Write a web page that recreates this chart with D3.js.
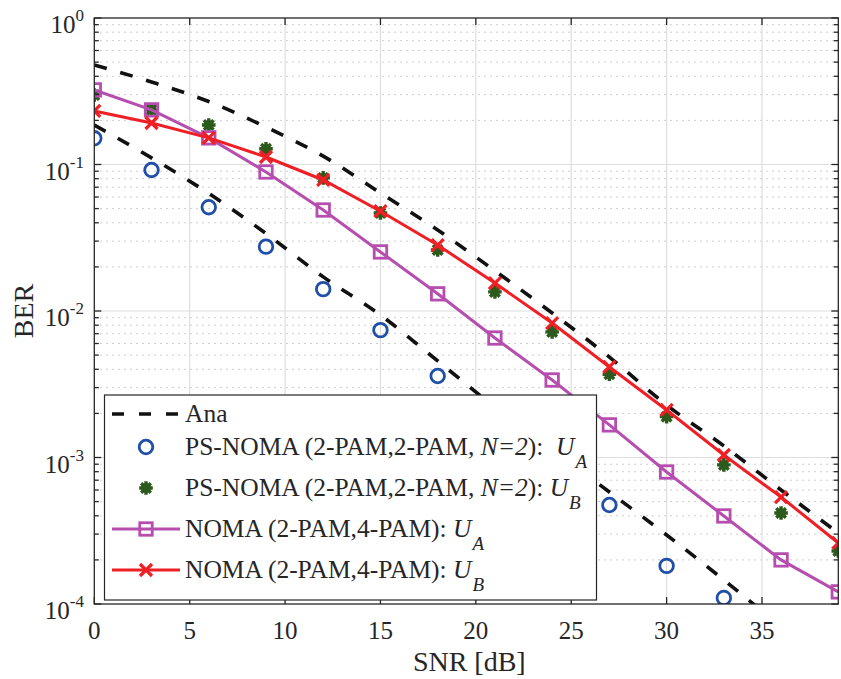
<!DOCTYPE html>
<html>
<head>
<meta charset="utf-8">
<script src="https://cdn.jsdelivr.net/npm/d3@7"></script>
<style>
  html, body { margin: 0; padding: 0; background: #fff; }
  svg { display: block; font-family: "Liberation Serif", "Times New Roman", serif; }
  text { white-space: pre; }
</style>
</head>
<body>
<svg id="chart" width="841" height="679"></svg>
<script>
// SNR sample points (dB)
const snr = [0, 3, 6, 9, 12, 15, 18, 21, 24, 27, 30, 33, 36, 39];

// Analytical BER curves
const anaUpper = [0.478, 0.366, 0.269, 0.180, 0.114, 0.0639, 0.0357, 0.0188, 0.00969, 0.00485, 0.00228, 0.00120, 0.000600, 0.000305];
const anaLower = [0.186, 0.111, 0.0635, 0.0338, 0.0171, 0.00939, 0.00456, 0.00221, 0.00114, 0.000581, 0.000296, 0.000146, 0.0000697];

// Simulated BER
const psNomaA = [0.151, 0.0918, 0.0511, 0.0275, 0.0141, 0.0074, 0.0036, 0.0018, 0.00093, 0.000474, 0.000182, 0.00011];
const psNomaB = [0.298, 0.236, 0.186, 0.128, 0.081, 0.0467, 0.0261, 0.0135, 0.0072, 0.0037, 0.0019, 0.00089, 0.000418, 0.00023];
const nomaA = [0.323, 0.236, 0.152, 0.0889, 0.0489, 0.0253, 0.0131, 0.00654, 0.00338, 0.00167, 0.000796, 0.000399, 0.000200, 0.000121];
const nomaB = [0.232, 0.192, 0.152, 0.1125, 0.0784, 0.048, 0.0282, 0.0155, 0.00828, 0.00415, 0.00211, 0.00104, 0.000537, 0.000261];

// Axis ticks
const xTicks = [0, 5, 10, 15, 20, 25, 30, 35];
const yExponents = [0, -1, -2, -3, -4];

const svg = d3.select("#chart");
const pLeft = 94.3, pRight = 838.3, pTop = 18, pBottom = 604;
const axisColor = "#262626";

const x = d3.scaleLinear().domain([0, 39]).range([pLeft, pRight]);
const y = d3.scaleLog().domain([1e-4, 1]).range([pBottom, pTop]);

const colors = {
  ana: "#111111",
  psA: "#1f4fa8",
  psB: "#2c5a1d",
  nomaA: "#b64eaf",
  nomaB: "#ef1f26"
};

// Minor y values (2..9 x 10^k)
const minorY = [];
for (let k = -4; k < 0; k++) {
  for (let m = 2; m <= 9; m++) minorY.push(m * Math.pow(10, k));
}

// Grid
const grid = svg.append("g");
grid.selectAll(".minor").data(minorY).join("line")
  .attr("x1", pLeft).attr("x2", pRight)
  .attr("y1", d => y(d)).attr("y2", d => y(d))
  .attr("stroke", "#bdbdbd").attr("stroke-width", 1)
  .attr("stroke-dasharray", "1.5 4.5");
grid.selectAll(".vmajor").data(xTicks.slice(1)).join("line")
  .attr("x1", d => x(d)).attr("x2", d => x(d))
  .attr("y1", pTop).attr("y2", pBottom)
  .attr("stroke", "#dedede").attr("stroke-width", 1.2);
grid.selectAll(".hmajor").data(yExponents.slice(1, -1)).join("line")
  .attr("x1", pLeft).attr("x2", pRight)
  .attr("y1", d => y(Math.pow(10, d))).attr("y2", d => y(Math.pow(10, d)))
  .attr("stroke", "#dedede").attr("stroke-width", 1.2);

// Clip to the axes box
svg.append("clipPath").attr("id", "plotClip")
  .append("rect").attr("x", pLeft).attr("y", pTop)
  .attr("width", pRight - pLeft).attr("height", pBottom - pTop);
const plot = svg.append("g").attr("clip-path", "url(#plotClip)");

const pairs = vals => vals.map((v, i) => [snr[i], v]);

const smoothLine = d3.line().x(d => x(d[0])).y(d => y(d[1])).curve(d3.curveMonotoneX);
const straightLine = d3.line().x(d => x(d[0])).y(d => y(d[1]));

// Analytical dashed curves
[anaUpper, anaLower].forEach(vals => {
  plot.append("path").datum(pairs(vals))
    .attr("d", smoothLine)
    .attr("fill", "none").attr("stroke", colors.ana)
    .attr("stroke-width", 3.6).attr("stroke-dasharray", "13 14");
});

// Marker drawing helpers
function circleMarker(g, cx, cy, color) {
  g.append("circle").attr("cx", cx).attr("cy", cy).attr("r", 6.8)
    .attr("fill", "none").attr("stroke", color).attr("stroke-width", 2.8);
}
function asteriskMarker(g, cx, cy, color) {
  const r = 6.8;
  let d = "";
  for (let a = 0; a < 4; a++) {
    const t = a * Math.PI / 4;
    d += `M${cx - r * Math.cos(t)},${cy - r * Math.sin(t)}L${cx + r * Math.cos(t)},${cy + r * Math.sin(t)}`;
  }
  g.append("circle").attr("cx", cx).attr("cy", cy).attr("r", 4.8).attr("fill", color);
  g.append("path").attr("d", d).attr("stroke", color).attr("stroke-width", 3.4).attr("fill", "none");
}
function squareMarker(g, cx, cy, color) {
  const s = 12.5;
  g.append("rect").attr("x", cx - s / 2).attr("y", cy - s / 2).attr("width", s).attr("height", s)
    .attr("fill", "none").attr("stroke", color).attr("stroke-width", 2.8);
}
function crossMarker(g, cx, cy, color) {
  const r = 6;
  g.append("path")
    .attr("d", `M${cx - r},${cy - r}L${cx + r},${cy + r}M${cx - r},${cy + r}L${cx + r},${cy - r}`)
    .attr("stroke", color).attr("stroke-width", 3.2).attr("fill", "none");
}

// PS-NOMA markers
pairs(psNomaA).forEach(d => circleMarker(plot, x(d[0]), y(d[1]), colors.psA));
pairs(psNomaB).forEach(d => asteriskMarker(plot, x(d[0]), y(d[1]), colors.psB));

// NOMA lines with markers
plot.append("path").datum(pairs(nomaA)).attr("d", straightLine)
  .attr("fill", "none").attr("stroke", colors.nomaA).attr("stroke-width", 3);
pairs(nomaA).forEach(d => squareMarker(plot, x(d[0]), y(d[1]), colors.nomaA));
plot.append("path").datum(pairs(nomaB)).attr("d", straightLine)
  .attr("fill", "none").attr("stroke", colors.nomaB).attr("stroke-width", 3);
pairs(nomaB).forEach(d => crossMarker(plot, x(d[0]), y(d[1]), colors.nomaB));

// Axes box and ticks
const axes = svg.append("g").attr("stroke", axisColor).attr("stroke-width", 1.3);
axes.append("rect").attr("x", pLeft).attr("y", pTop)
  .attr("width", pRight - pLeft).attr("height", pBottom - pTop).attr("fill", "none");
xTicks.forEach(t => {
  axes.append("line").attr("x1", x(t)).attr("x2", x(t)).attr("y1", pBottom).attr("y2", pBottom - 7);
  axes.append("line").attr("x1", x(t)).attr("x2", x(t)).attr("y1", pTop).attr("y2", pTop + 7);
});
yExponents.forEach(e => {
  const yy = y(Math.pow(10, e));
  axes.append("line").attr("x1", pLeft).attr("x2", pLeft + 7).attr("y1", yy).attr("y2", yy);
  axes.append("line").attr("x1", pRight).attr("x2", pRight - 7).attr("y1", yy).attr("y2", yy);
});
minorY.forEach(v => {
  const yy = y(v);
  axes.append("line").attr("x1", pLeft).attr("x2", pLeft + 4.5).attr("y1", yy).attr("y2", yy);
  axes.append("line").attr("x1", pRight).attr("x2", pRight - 4.5).attr("y1", yy).attr("y2", yy);
});

// Tick labels
svg.append("g").selectAll("text").data(xTicks).join("text")
  .attr("x", d => x(d)).attr("y", 639)
  .attr("text-anchor", "middle").attr("font-size", 25).attr("fill", axisColor)
  .text(d => d);

const yl = svg.append("g").attr("fill", axisColor);
yExponents.forEach(e => {
  const yy = y(Math.pow(10, e));
  const t = yl.append("text").attr("x", 84).attr("y", yy + 15)
    .attr("text-anchor", "end").attr("font-size", 25);
  t.append("tspan").text("10");
  t.append("tspan").attr("font-size", 17).attr("dy", -12).text(e);
});

// Axis titles
svg.append("text").attr("x", x(19.5) + 3).attr("y", 671)
  .attr("text-anchor", "middle").attr("font-size", 28).attr("fill", axisColor)
  .text("SNR [dB]");
svg.append("text").attr("transform", `translate(33,${(pTop + pBottom) / 2}) rotate(-90)`)
  .attr("text-anchor", "middle").attr("font-size", 28).attr("fill", axisColor)
  .text("BER");

// Legend
const lg = svg.append("g");
lg.append("rect").attr("x", 104.5).attr("y", 395).attr("width", 492).attr("height", 205)
  .attr("fill", "#fff").attr("stroke", axisColor).attr("stroke-width", 1.2);

const legendRows = [
  { key: "ana", parts: [["Ana", ""]] },
  { key: "psA", parts: [["PS-NOMA (2-PAM,2-PAM, ", ""], ["N=2", "i"], ["):  ", ""], ["U", "i"], ["A", "sub"]] },
  { key: "psB", parts: [["PS-NOMA (2-PAM,2-PAM, ", ""], ["N=2", "i"], ["): ", ""], ["U", "i"], ["B", "sub"]] },
  { key: "nomaA", parts: [["NOMA (2-PAM,4-PAM): ", ""], ["U", "i"], ["A", "sub"]] },
  { key: "nomaB", parts: [["NOMA (2-PAM,4-PAM): ", ""], ["U", "i"], ["B", "sub"]] }
];
const sx1 = 112, sx2 = 180, sxm = (sx1 + sx2) / 2;
legendRows.forEach((row, i) => {
  const base = i === 0 ? 422 : 455 + (i - 1) * 41;
  const cy = base - 8;
  if (row.key === "ana") {
    lg.append("line").attr("x1", sx1).attr("x2", sx2).attr("y1", cy).attr("y2", cy)
      .attr("stroke", colors.ana).attr("stroke-width", 3.6).attr("stroke-dasharray", "12 15");
  } else if (row.key === "psA") {
    circleMarker(lg, sxm, cy, colors.psA);
  } else if (row.key === "psB") {
    asteriskMarker(lg, sxm, cy, colors.psB);
  } else if (row.key === "nomaA") {
    lg.append("line").attr("x1", sx1).attr("x2", sx2).attr("y1", cy).attr("y2", cy)
      .attr("stroke", colors.nomaA).attr("stroke-width", 3);
    squareMarker(lg, sxm, cy, colors.nomaA);
  } else {
    lg.append("line").attr("x1", sx1).attr("x2", sx2).attr("y1", cy).attr("y2", cy)
      .attr("stroke", colors.nomaB).attr("stroke-width", 3);
    crossMarker(lg, sxm, cy, colors.nomaB);
  }
  const t = lg.append("text").attr("x", 185).attr("y", base)
    .attr("font-size", 25.5).attr("fill", axisColor);
  row.parts.forEach(([s, style]) => {
    const sp = t.append("tspan").text(s);
    if (style === "i") sp.attr("font-style", "italic");
    if (style === "sub") {
      sp.attr("font-style", "italic").attr("font-size", 19).attr("dy", 13).attr("dx", 1);
    }
  });
});
</script>
</body>
</html>
